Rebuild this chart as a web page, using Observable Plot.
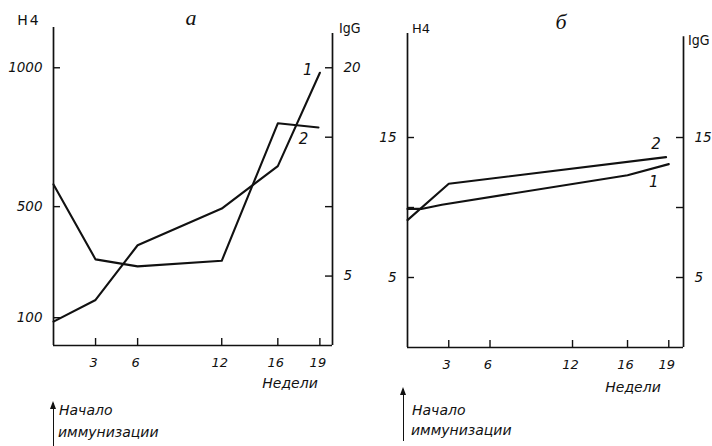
<!DOCTYPE html>
<html>
<head>
<meta charset="utf-8">
<script src="https://cdn.jsdelivr.net/npm/d3@7"></script>
<script src="https://cdn.jsdelivr.net/npm/@observablehq/plot@0.6"></script>
<style>
  html, body { margin: 0; padding: 0; background: #fff; }
  #wrap { position: relative; width: 712px; height: 446px; overflow: hidden; background: #fff; font-family: "DejaVu Sans", sans-serif; color: #111; }
  #wrap svg { position: absolute; top: 0; }
  .lbl { position: absolute; white-space: nowrap; line-height: 1; transform: translate(-50%, -50%); }
  .arrow { position: absolute; width: 0; border-left: 1.5px solid #111; }
  .arrow::before { content: ""; position: absolute; left: -4.5px; top: -2px; border-left: 3.75px solid transparent; border-right: 3.75px solid transparent; border-bottom: 8px solid #111; }
</style>
</head>
<body>
<div id="wrap"></div>
<script>
// ---- Data ----
// Panel а
const weeksTicks = [3, 6, 12, 16, 19];
const aWeeks1 = [0, 3, 6, 12, 16, 19];
const aH4 = [86, 164, 361, 493, 646, 982];            // curve 1, H4 (left axis)
const aWeeks2 = [0, 3, 6, 12, 16, 18.9];
const aIgG = [11.6, 6.2, 5.7, 6.1, 16.0, 15.7];        // curve 2, IgG (right axis)
const aLeftTicks = [100, 500, 1000];
const aRightTicks = [5, 10, 15, 20];
const aRightLabels = ["5", "", "", "20"];
// Panel б
const bWeeks1 = [0, 1, 2.5, 16, 19];
const bCurve1 = [9.9, 9.9, 10.2, 12.3, 13.1];
const bWeeks2 = [0, 3, 18.8];
const bCurve2 = [9.1, 11.7, 13.6];
const bLeftTicks = [5, 10, 15];
const bLeftLabels = ["5", "", "15"];
const bRightTicks = [5, 10, 15];
const bRightLabels = ["5", "", "15"];

const IGG_TO_H4 = 50; // right-axis alignment in panel а

const wrap = document.getElementById("wrap");
const FONT = "DejaVu Sans";

function panel({left, width, height, mL, mR, mT, mB, xMax, yMax, lines, leftTicks, leftLabels, rightTicks, rightLabels, topLeft, topRight, labels}) {
  const W = width - mL - mR;
  const H = height - mT - mB;
  const marks = [
    Plot.ruleY([0], {x1: 0, x2: xMax, strokeWidth: 1.7}),
    Plot.ruleX([0], {y1: 0, y2: topLeft, strokeWidth: 1.7}),
    Plot.ruleX([xMax], {y1: 0, y2: topRight, strokeWidth: 1.7}),
    Plot.tickX(weeksTicks, {x: d => d, insetTop: H - 7, strokeWidth: 1.4}),
    Plot.tickY(leftTicks, {y: d => d, insetRight: W - 7, strokeWidth: 1.4}),
    Plot.tickY(rightTicks, {y: d => d, insetLeft: W - 7, strokeWidth: 1.4}),
    Plot.axisX(weeksTicks, {tickSize: 0, tickPadding: 12, dx: -2, fontSize: 13, fontStyle: "italic", tickFormat: d => String(d), label: null}),
    Plot.axisY(leftTicks, {anchor: "left", tickSize: 0, tickPadding: 11, fontSize: 13.5, fontStyle: "italic", tickFormat: (d, i) => leftLabels[i], label: null}),
    Plot.axisY(rightTicks, {anchor: "right", tickSize: 0, tickPadding: 11, fontSize: 13.5, fontStyle: "italic", tickFormat: (d, i) => rightLabels[i], label: null}),
  ];
  for (const ln of lines) {
    marks.push(Plot.line(ln.data, {x: "x", y: "y", stroke: "#111", strokeWidth: 2.1, curve: "linear"}));
  }
  for (const lb of labels) {
    marks.push(Plot.text([lb], {x: "x", y: "y", text: "t", dx: lb.dx, dy: lb.dy, fontSize: 15, fontStyle: "italic", fill: "#111"}));
  }
  const svg = Plot.plot({
    width, height,
    marginLeft: mL, marginRight: mR, marginTop: mT, marginBottom: mB,
    style: {background: "transparent", overflow: "visible", fontFamily: FONT, color: "#111"},
    x: {domain: [0, xMax], axis: null},
    y: {domain: [0, yMax], axis: null},
    marks
  });
  svg.style.left = left + "px";
  wrap.appendChild(svg);
}

const zip = (xs, ys, k = 1) => xs.map((x, i) => ({x, y: ys[i] * k}));

// Panel а
const aLine1 = zip(aWeeks1, aH4);
const aLine2 = zip(aWeeks2, aIgG, IGG_TO_H4);
panel({
  left: 0, width: 356, height: 446, mL: 53, mR: 24, mT: 27, mB: 101,
  xMax: 19.9, yMax: 1145,
  lines: [{data: aLine1}, {data: aLine2}],
  leftTicks: aLeftTicks, leftLabels: aLeftTicks.map(String),
  rightTicks: aRightTicks.map(v => v * IGG_TO_H4), rightLabels: aRightLabels,
  topLeft: 1145, topRight: 1145 - 6 / 0.2777,
  labels: [
    {...aLine1[aLine1.length - 1], t: "1", dx: -12, dy: -3},
    {...aLine2[aLine2.length - 1], t: "2", dx: -15, dy: 12}
  ]
});

// Panel б
const bLine1 = zip(bWeeks1, bCurve1);
const bLine2 = zip(bWeeks2, bCurve2);
panel({
  left: 356, width: 356, height: 446, mL: 51, mR: 29, mT: 33, mB: 99,
  xMax: 20.07, yMax: 22.43,
  lines: [{data: bLine1}, {data: bLine2}],
  leftTicks: bLeftTicks, leftLabels: bLeftLabels,
  rightTicks: bRightTicks, rightLabels: bRightLabels,
  topLeft: 22.43, topRight: 22.2,
  labels: [
    {...bLine1[bLine1.length - 1], t: "1", dx: -15, dy: 18},
    {...bLine2[bLine2.length - 1], t: "2", dx: -10, dy: -13}
  ]
});

// Text annotations
function label(text, x, y, style) {
  const d = document.createElement("div");
  d.className = "lbl";
  d.textContent = text;
  d.style.left = x + "px";
  d.style.top = y + "px";
  Object.assign(d.style, style || {});
  wrap.appendChild(d);
  return d;
}
function leftLabel(text, x, y, style) {
  const d = label(text, x, y, style);
  d.style.transform = "translate(0, -50%)";
  return d;
}
label("а", 191, 18, {fontFamily: "Liberation Serif", fontStyle: "italic", fontSize: "22px"});
label("б", 561, 22, {fontFamily: "Liberation Serif", fontStyle: "italic", fontSize: "22px"});
label("H4", 29, 20, {fontSize: "14px", letterSpacing: "2px"});
label("H4", 421, 28, {fontSize: "13px"});
leftLabel("IgG", 339, 28, {fontFamily: "DejaVu Sans Condensed", fontSize: "14px"});
leftLabel("IgG", 688, 40, {fontFamily: "DejaVu Sans Condensed", fontSize: "14px"});
label("Недели", 290, 383, {fontStyle: "italic", fontSize: "14px"});
label("Недели", 633, 387, {fontStyle: "italic", fontSize: "14px"});

function arrow(x, top, bottom) {
  const a = document.createElement("div");
  a.className = "arrow";
  a.style.left = x + "px";
  a.style.top = top + "px";
  a.style.height = (bottom - top) + "px";
  wrap.appendChild(a);
}
arrow(53, 403, 446);
leftLabel("Начало", 59, 410, {fontStyle: "italic", fontSize: "14px"});
leftLabel("иммунизации", 58, 432, {fontStyle: "italic", fontSize: "14px"});
arrow(403, 389, 441);
leftLabel("Начало", 412, 410, {fontStyle: "italic", fontSize: "14px"});
leftLabel("иммунизации", 411, 430, {fontStyle: "italic", fontSize: "14px"});
</script>
</body>
</html>
